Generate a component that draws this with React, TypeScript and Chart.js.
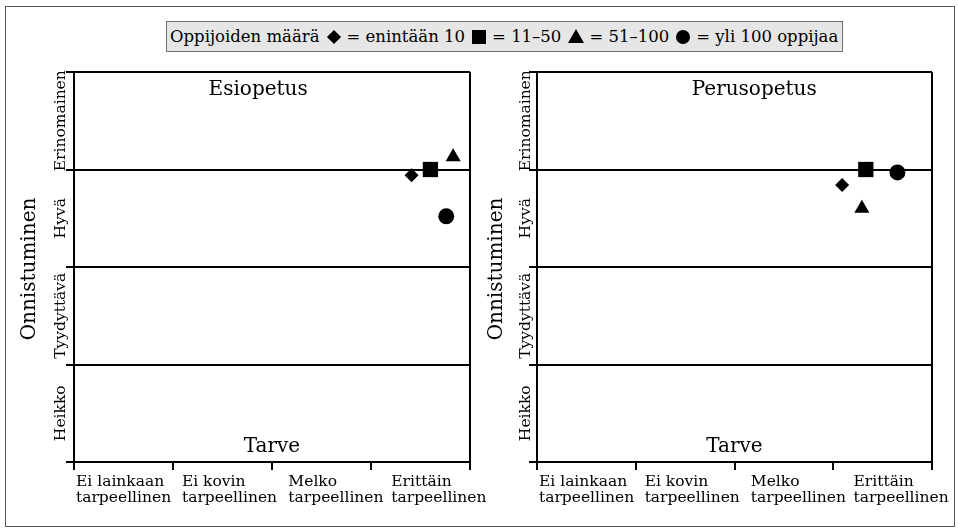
import React, { useEffect, useRef } from "react";
import { Chart, registerables } from "chart.js";

Chart.register(...registerables);

const FONT = '"DejaVu Serif", "Liberation Serif", serif';

// ---- data ----
const needLabels: string[][] = [
  ["Ei lainkaan", "tarpeellinen"],
  ["Ei kovin", "tarpeellinen"],
  ["Melko", "tarpeellinen"],
  ["Erittäin", "tarpeellinen"],
];
const needLabelStarts = [0.02, 1.09, 2.165, 3.205];
const successLabels = ["Heikko", "Tyydyttävä", "Hyvä", "Erinomainen"];
const successLabelCenters = [0.5, 1.5, 2.5, 3.5];
const legendTitle = "Oppijoiden määrä";
const groupLabels = ["enintään 10", "11–50", "51–100", "yli 100 oppijaa"];
const groupStyles = ["rectRot", "rect", "triangle", "circle"];
const groupRadii = [7, 10.8, 8.7, 8];

const panelTitles = ["Esiopetus", "Perusopetus"];
const panelTitleX = [1.86, 2.2];
const panelTitleY = 3.764;
const xAxisTitle = "Tarve";
const xAxisTitlePos = [2.0, 0.103];
const yAxisTitle = "Onnistuminen";

// Esiopetus: need (x) and success (y) per group
const esiNeed = [3.41, 3.6, 3.83, 3.76];
const esiSuccess = [2.94, 3.0, 3.13, 2.52];
// Perusopetus
const perusNeed = [3.09, 3.33, 3.29, 3.65];
const perusSuccess = [2.84, 3.0, 2.6, 2.97];

const panelTextPlugin = {
  id: "panelText",
  afterDraw(chart: any, _args: any, opts: any) {
    const { ctx, chartArea } = chart;
    const x = chart.scales.x;
    const y = chart.scales.y;
    ctx.save();
    ctx.fillStyle = "#000";
    // x category labels (two lines, left aligned)
    ctx.font = `15.5px ${FONT}`;
    ctx.textAlign = "left";
    ctx.textBaseline = "alphabetic";
    needLabels.forEach((lines, i) => {
      const px = x.getPixelForValue(needLabelStarts[i]);
      lines.forEach((t, j) => ctx.fillText(t, px, chartArea.bottom + 24 + j * 16));
    });
    // y category labels (rotated)
    successLabels.forEach((t, i) => {
      const py = y.getPixelForValue(successLabelCenters[i]);
      ctx.save();
      ctx.translate(chartArea.left - opts.yLabelGap, py);
      ctx.rotate(-Math.PI / 2);
      ctx.textAlign = "center";
      ctx.fillText(t, 0, 0);
      ctx.restore();
    });
    // y axis title
    ctx.font = `20px ${FONT}`;
    ctx.save();
    ctx.translate(chartArea.left - opts.yTitleGap, (chartArea.top + chartArea.bottom) / 2 + 2);
    ctx.rotate(-Math.PI / 2);
    ctx.textAlign = "center";
    ctx.fillText(yAxisTitle, 0, 0);
    ctx.restore();
    // panel title
    ctx.textAlign = "center";
    ctx.fillText(opts.title, x.getPixelForValue(opts.titleX), y.getPixelForValue(panelTitleY));
    // x axis title inside plot
    ctx.fillText(xAxisTitle, x.getPixelForValue(xAxisTitlePos[0]), y.getPixelForValue(xAxisTitlePos[1]));
    ctx.restore();
  },
};

function makeConfig(need: number[], success: number[], idx: number, padding: any, yTitleGap: number, yLabelGap: number): any {
  return {
    type: "scatter",
    data: {
      datasets: groupLabels.map((g, i) => ({
        label: g,
        data: [{ x: need[i], y: success[i] }],
        pointStyle: groupStyles[i],
        pointRadius: groupRadii[i],
        pointHoverRadius: groupRadii[i],
        backgroundColor: "#000",
        borderColor: "#000",
        borderWidth: 0,
      })),
    },
    options: {
      animation: false,
      responsive: false,
      devicePixelRatio: 1,
      layout: { padding },
      plugins: {
        legend: { display: false },
        tooltip: { enabled: false },
        panelText: { title: panelTitles[idx], titleX: panelTitleX[idx], yTitleGap, yLabelGap },
      },
      scales: {
        x: {
          type: "linear",
          min: 0,
          max: 4,
          ticks: { display: false, stepSize: 1 },
          grid: {
            color: (c: any) => (c.tick && c.tick.value === 4 ? "#000" : "rgba(0,0,0,0)"),
            tickColor: "#000",
            lineWidth: 2,
            tickLength: 8,
            drawTicks: true,
          },
          border: { display: true, color: "#000", width: 2 },
          afterFit: (s: any) => {
            s.height = 8;
          },
        },
        y: {
          type: "linear",
          min: 0,
          max: 4,
          ticks: { display: false, stepSize: 1 },
          grid: {
            color: "#000",
            tickColor: "#000",
            lineWidth: 2,
            tickLength: 8,
            drawTicks: true,
          },
          border: { display: true, color: "#000", width: 2 },
          afterFit: (s: any) => {
            s.width = 8;
          },
        },
      },
    },
    plugins: [panelTextPlugin],
  };
}

function Panel(props: {
  need: number[];
  success: number[];
  idx: number;
  left: number;
  width: number;
  padding: any;
  yTitleGap: number;
  yLabelGap: number;
}) {
  const ref = useRef<HTMLCanvasElement>(null);
  useEffect(() => {
    const chart = new Chart(
      ref.current as HTMLCanvasElement,
      makeConfig(props.need, props.success, props.idx, props.padding, props.yTitleGap, props.yLabelGap)
    );
    return () => chart.destroy();
  }, []);
  return (
    <canvas
      ref={ref}
      width={props.width}
      height={532}
      style={{ position: "absolute", left: props.left, top: 0, width: props.width, height: 532 }}
    />
  );
}

function Marker({ kind }: { kind: string }) {
  const base: React.CSSProperties = { display: "inline-block", margin: "0 6px 0 7px", background: "#000" };
  if (kind === "rectRot")
    return <span style={{ ...base, width: 10, height: 10, transform: "rotate(45deg)", margin: "0 8px 0 9px" }} />;
  if (kind === "rect") return <span style={{ ...base, width: 14, height: 14 }} />;
  if (kind === "triangle")
    return (
      <span
        style={{
          display: "inline-block",
          margin: "0 5px 2px 7px",
          width: 0,
          height: 0,
          borderLeft: "8px solid transparent",
          borderRight: "8px solid transparent",
          borderBottom: "14px solid #000",
        }}
      />
    );
  return <span style={{ ...base, width: 14, height: 14, borderRadius: "50%" }} />;
}

export default function App() {
  return (
    <div style={{ position: "fixed", left: 0, top: 0, width: 958, height: 532, background: "#fff", overflow: "hidden" }}>
      <div
        style={{
          position: "absolute",
          left: 5,
          top: 6,
          width: 950,
          height: 521,
          boxSizing: "border-box",
          border: "1px solid #555",
        }}
      />
      <div
        style={{
          position: "absolute",
          left: 166,
          top: 21,
          width: 677,
          height: 31,
          boxSizing: "border-box",
          background: "#e6e6e6",
          border: "1px solid #707070",
          display: "flex",
          alignItems: "center",
          paddingLeft: 3,
          font: `16.5px ${FONT}`,
          color: "#000",
          whiteSpace: "nowrap",
        }}
      >
        <span>{legendTitle}</span>
        {groupLabels.map((g, i) => (
          <React.Fragment key={i}>
            <Marker kind={groupStyles[i]} />
            <span>= {g}</span>
          </React.Fragment>
        ))}
      </div>
      <Panel
        need={esiNeed}
        success={esiSuccess}
        idx={0}
        left={0}
        width={500}
        padding={{ left: 66, right: 30, top: 72, bottom: 62 }}
        yTitleGap={39}
        yLabelGap={9}
      />
      <Panel
        need={perusNeed}
        success={perusSuccess}
        idx={1}
        left={479}
        width={479}
        padding={{ left: 50, right: 26, top: 72, bottom: 62 }}
        yTitleGap={35}
        yLabelGap={7}
      />
    </div>
  );
}
